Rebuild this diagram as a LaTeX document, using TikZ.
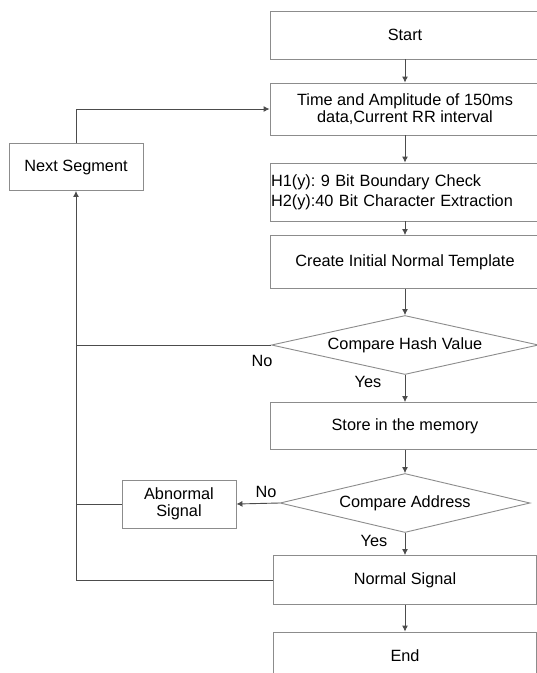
\documentclass[tikz,border=0pt]{standalone}
\usepackage{fontspec}
\setmainfont{Liberation Sans}
\frenchspacing
\usetikzlibrary{shapes.geometric,arrows.meta}
\definecolor{boxgray}{gray}{0.55}
\definecolor{linkgray}{gray}{0.3}

\begin{document}
\begin{tikzpicture}[x=1pt,y=-1pt,
        font=\fontsize{16.3}{18}\selectfont,
        procbox/.style={rectangle,draw=boxgray,line width=0.9pt,minimum width=270pt,align=center},
        testbox/.style={diamond,draw=boxgray,line width=0.9pt,aspect=4.5,inner sep=0pt},
        link/.style={draw=linkgray,line width=0.9pt},
        flow/.style={link,-{Latex[length=6pt,width=6pt]}}]
      \useasboundingbox (0,0) rectangle (537,673);
      \clip (0,0) rectangle (537,673);
      \fill[white] (0,0) rectangle (537,673);

      \node[procbox,minimum height=48pt] (start) at (405,35) {Start};
      \node[procbox,minimum height=52pt,font=\fontsize{16.3}{17}\selectfont] (data) at (405,109)
        {Time and Amplitude of 150ms\\data,Current RR interval};
      \node[procbox,minimum height=58pt,text width=268pt,inner xsep=1pt,align=left,
            font=\fontsize{16.3}{20}\selectfont] (hashchk) at (405,192)
        {H1(y): 9 Bit Boundary Check\\H2(y):40 Bit Character Extraction};
      \node[procbox,minimum height=53pt] (create) at (405,262) {Create Initial Normal Template};
      \node[testbox,minimum width=267pt,minimum height=59pt] (cmphash) at (405,345) {Compare Hash Value};
      \node[procbox,minimum height=47pt] (store) at (405,426) {Store in the memory};
      \node[testbox,minimum width=250pt,minimum height=59pt] (cmpaddr) at (405,503) {Compare Address};
      \node[procbox,minimum width=114pt,minimum height=48pt,font=\fontsize{16.3}{17}\selectfont] (abnormal) at (179,504)
        {Abnormal\\Signal};
      \node[procbox,minimum width=263pt,minimum height=49pt] (normal) at (405,580) {Normal Signal};
      \node[procbox,minimum width=263pt,minimum height=48pt] (end) at (405,656) {End};
      \node[procbox,minimum width=134pt,minimum height=47pt] (next) at (76,167) {Next Segment};

      \node (nohash) at (262,361) {No};
      \node (yeshash) at (368,382) {Yes};
      \node (noaddr) at (266,492) {No};
      \node (yesaddr) at (374,541) {Yes};

      \draw[flow] (start) -- (data);
      \draw[flow] (data) -- (hashchk);
      \draw[flow] (hashchk) -- (create);
      \draw[flow] (create) -- (cmphash);
      \draw[flow] (cmphash) -- (store);
      \draw[flow] (store) -- (cmpaddr);
      \draw[flow] (cmpaddr) -- (normal);
      \draw[flow] (normal) -- (end);
      \draw[flow] (cmpaddr.west) -- (abnormal.east);
      \draw[link] (cmphash.west) -- (cmphash.west -| next.south);
      \draw[link] (abnormal.west) -- (abnormal.west -| next.south);
      \draw[flow] (normal.west) -| (next.south);
      \draw[flow] (next.north) |- (data.west);

    \end{tikzpicture}
\end{document}
